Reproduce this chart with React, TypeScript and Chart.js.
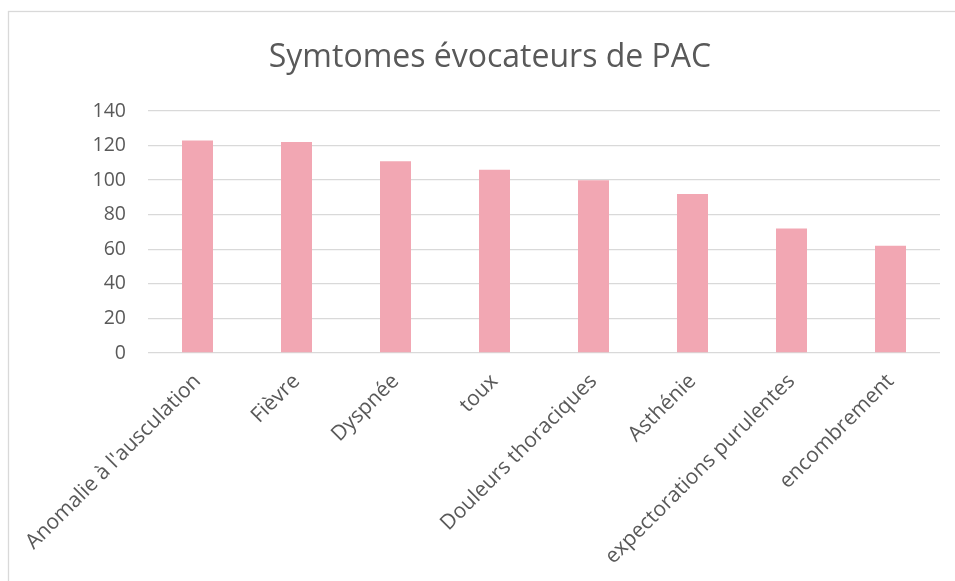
import React, { useEffect, useRef } from "react";
import { Chart, registerables } from "chart.js";

Chart.register(...registerables);

const categories = [
  "Anomalie à l'ausculation",
  "Fièvre",
  "Dyspnée",
  "toux",
  "Douleurs thoraciques",
  "Asthénie",
  "expectorations purulentes",
  "encombrement",
];
const values = [123, 122, 111, 106, 100, 92, 72, 62];
const titleText = "Symtomes évocateurs de PAC";
const yMin = 0;
const yMax = 140;
const yStep = 20;

const FONT = "'Open Sans', sans-serif";
const TEXT = "#595959";

const frame = {
  id: "frame",
  beforeDraw(chart: any) {
    const ctx = chart.ctx;
    ctx.save();
    ctx.fillStyle = "#ffffff";
    ctx.fillRect(0, 0, chart.width, chart.height);
    ctx.strokeStyle = "#d9d9d9";
    ctx.lineWidth = 1.3;
    ctx.strokeRect(8.5, 11.5, 1000, 700);
    ctx.restore();
  },
};

export default function App() {
  const ref = useRef<HTMLCanvasElement>(null);
  useEffect(() => {
    if (!ref.current) return;
    const chart = new Chart(ref.current, {
      type: "bar",
      data: {
        labels: categories,
        datasets: [
          {
            data: values,
            backgroundColor: "#F2A7B3",
            borderWidth: 0,
            categoryPercentage: 1,
            barPercentage: 0.313,
          },
        ],
      },
      plugins: [frame],
      options: {
        responsive: false,
        animation: false,
        layout: { padding: { left: 40, right: 15, top: 0, bottom: 0 } },
        plugins: {
          legend: { display: false },
          tooltip: { enabled: false },
          title: {
            display: true,
            text: titleText,
            color: TEXT,
            font: { family: FONT, size: 32, weight: "normal", lineHeight: 1.2 },
            padding: { top: 39, bottom: 33.6 },
          },
        },
        scales: {
          x: {
            grid: { display: false, drawTicks: false },
            border: { display: false },
            ticks: {
              color: TEXT,
              font: { family: FONT, size: 21 },
              minRotation: 45,
              maxRotation: 45,
              padding: 16,
              autoSkip: false,
            },
            afterFit(scale: any) {
              scale.height = 228;
            },
          },
          y: {
            min: yMin,
            max: yMax,
            grid: { color: "#d9d9d9", lineWidth: 1.3, drawTicks: false },
            border: { display: false },
            ticks: {
              stepSize: yStep,
              color: TEXT,
              font: { family: FONT, size: 19.5 },
              padding: 22,
            },
            afterFit(scale: any) {
              scale.width = 108;
            },
          },
        },
      },
    });
    return () => chart.destroy();
  }, []);
  return (
    <div style={{ position: "fixed", left: 0, top: 0, width: 955, height: 581 }}>
      <canvas ref={ref} width={955} height={581} />
    </div>
  );
}
